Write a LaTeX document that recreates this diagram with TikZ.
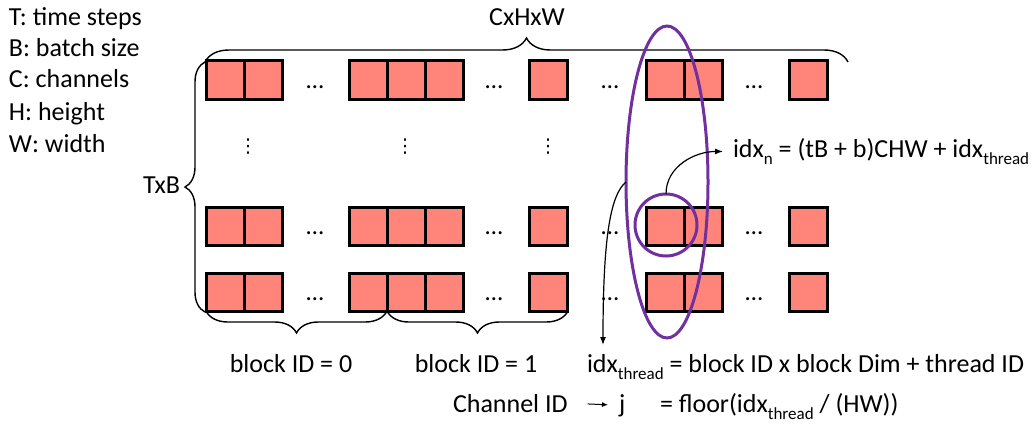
\documentclass[tikz,border=0pt]{standalone}
\usepackage{fontspec}
\setmainfont{Carlito}
\newfontfamily\symfont{DejaVu Sans}
\usetikzlibrary{shapes.geometric,decorations.pathreplacing,arrows.meta}
\definecolor{cellred}{HTML}{FF857A}
\definecolor{grpviolet}{HTML}{7030A0}
% lowered small text used as a subscript
\newcommand\lowsub[1]{\raisebox{-0.3em}{\fontsize{17}{17}\selectfont #1}}

\begin{document}
\begin{tikzpicture}[x=1pt,y=-1pt,
  every node/.style={inner sep=0pt, outer sep=0pt, font=\fontsize{26}{30}\selectfont},
  cell/.style={draw=black, line width=3pt, fill=cellred, minimum size=38pt},
  hdots/.style={font=\fontsize{25}{25}\selectfont},
  vdotsnode/.style={font=\symfont\fontsize{19}{19}\selectfont},
  brc/.style={draw=black, line width=1.4pt, decorate,
    decoration={brace, amplitude=#1}},
  ring/.style={draw=grpviolet, line width=3pt},
  link/.style={draw=black, line width=1.2pt, -{Latex[length=8pt,width=6pt]}},
  legend/.style={anchor=base west},
]
\useasboundingbox (0,0) rectangle (1033,428);

% legend
\node[legend] (lT) at (9,26)  {T: time steps};
\node[legend] (lB) at (9,57)  {B: batch size};
\node[legend] (lC) at (9,88)  {C: channels};
\node[legend] (lH) at (9,120) {H: height};
\node[legend] (lW) at (9,152) {W: width};

% cells, horizontal ellipses between groups
\foreach \r/\y in {1/80, 3/226.5, 4/292} {
  \foreach \c/\x in {1/225,2/263,3/368,4/406,5/444,6/548,7/665,8/703,9/808}
    \node[cell] (c\r-\c) at (\x,\y) {};
  \foreach \d/\x in {1/315,2/494,3/610,4/754}
    \node[hdots] (h\r-\d) at (\x,\y+7) {…};
}

% vertical ellipses between rows
\node[vdotsnode] (v1) at (248,147) {⋮};
\node[vdotsnode] (v2) at (405,147) {⋮};
\node[vdotsnode] (v3) at (548,147) {⋮};

% braces
\coordinate (tl) at (205,62);
\coordinate (tr) at (848,62);
\coordinate (bl) at (205,312);
\coordinate (bm) at (387,311);
\coordinate (br) at (568,311);
\coordinate (b0) at (206,311);
\path[brc=24] (tl) -- (tr);
\path[brc=20] (bl) -- (tl);
\path[brc=22] (bm) -- (b0);
\path[brc=22] (br) -- (bm);

\node[anchor=base] (chw) at (527,26) {CxHxW};
\node[anchor=base east] (tb) at (180,193) {TxB};
\node[anchor=base] (blk0) at (291,372) {block ID = 0};
\node[anchor=base] (blk1) at (476,372) {block ID = 1};

% thread grouping
\node[ring, ellipse, minimum width=82pt, minimum height=312pt] (grp) at (667,182) {};
\node[ring, circle, minimum size=62pt] (th) at (666,225) {};

% formulas
\node[anchor=base west] (idxn) at (733,157) {idx\lowsub{n} = (tB + b)CHW + idx\lowsub{thread}};
\node[anchor=base west] (idxt) at (587,372) {idx\lowsub{thread} = block ID x block Dim + thread ID};
\node[anchor=base west] (chan) at (453,412) {Channel ID};
\node[anchor=base west] (jj) at (619,412) {j};
\node[anchor=base west] (flr) at (660,412) {= floor(idx\lowsub{thread} / (HW))};

% connectors
\coordinate (tdown) at (603,345);
\draw[link] (th.north) to[out=90, in=180] ([xshift=-10pt]idxn.west);
\draw[link] (grp.west) .. controls (610,195) and (603,240) .. (tdown);
\draw[link, line width=1pt, -{Latex[length=6pt,width=5pt]}, shorten <=20pt, shorten >=11pt] (chan.east) -- (jj.west);
\end{tikzpicture}
\end{document}
